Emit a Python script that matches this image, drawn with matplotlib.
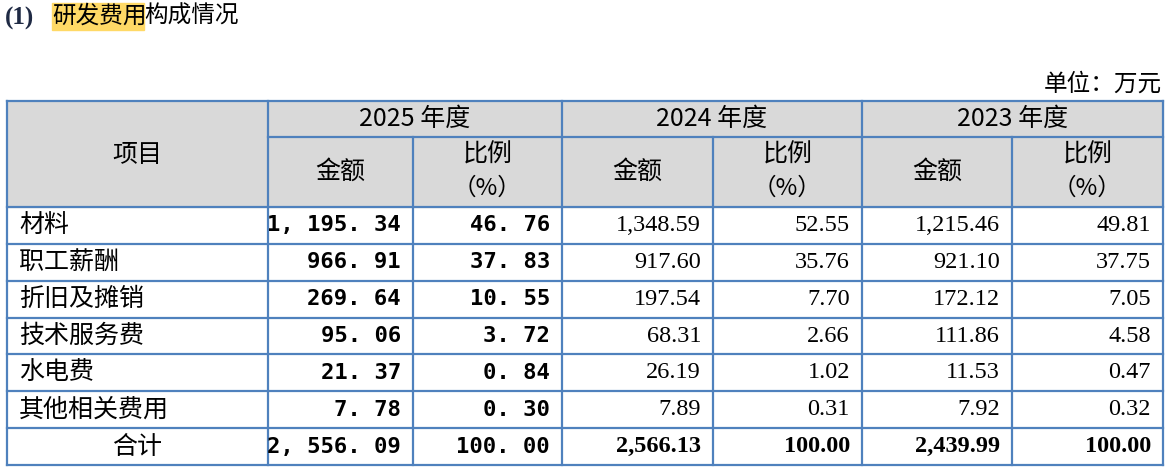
import matplotlib
matplotlib.use("Agg")
import matplotlib.pyplot as plt
from matplotlib.patches import Rectangle

items = ["材料", "职工薪酬", "折旧及摊销", "技术服务费", "水电费", "其他相关费用", "合计"]
years = ["2025 年度", "2024 年度", "2023 年度"]
amt2025 = ["1,195.34", "966.91", "269.64", "95.06", "21.37", "7.78", "2,556.09"]
pct2025 = ["46.76", "37.83", "10.55", "3.72", "0.84", "0.30", "100.00"]
amt2024 = ["1,348.59", "917.60", "197.54", "68.31", "26.19", "7.89", "2,566.13"]
pct2024 = ["52.55", "35.76", "7.70", "2.66", "1.02", "0.31", "100.00"]
amt2023 = ["1,215.46", "921.10", "172.12", "111.86", "11.53", "7.92", "2,439.99"]
pct2023 = ["49.81", "37.75", "7.05", "4.58", "0.47", "0.32", "100.00"]

CJK = ["Noto Sans CJK SC", "DejaVu Sans"]
SERIF = ["Liberation Serif", "DejaVu Serif"]
MONO = ["DejaVu Sans Mono"]
BLUE = "#4F81BD"

fig = plt.figure(figsize=(11.73, 4.69), dpi=100)
ax = fig.add_axes([0, 0, 1, 1])
ax.set_xlim(0, 1173); ax.set_ylim(469, 0); ax.axis("off")

# title
ax.text(5, 18, "(1)", fontsize=18, fontweight="bold", family=SERIF, color="#1F2A44", va="center")
ax.add_patch(Rectangle((52, 3), 92, 27, color="#FFD966", zorder=0))
ax.text(52, 16, "研发费用", fontsize=17, family=CJK, va="center")
ax.text(144, 16, "构成情况", fontsize=17, family=CJK, va="center")
ax.text(1162, 84, "单位：万元", fontsize=17, family=CJK, va="center", ha="right")

xs = [7, 268, 413, 562, 713, 862, 1012, 1163]
ytop, yh1, yh2 = 101, 137, 207
rh = (465 - yh2) / len(items)
ax.add_patch(Rectangle((xs[0], ytop), xs[-1] - xs[0], yh2 - ytop, color="#D9D9D9", zorder=0))

lw = 1.6
for y in [ytop, yh2] + [yh2 + rh * (i + 1) for i in range(len(items))]:
    ax.plot([xs[0], xs[-1]], [y, y], color=BLUE, lw=lw)
ax.plot([xs[1], xs[-1]], [yh1, yh1], color=BLUE, lw=lw)
for i, x in enumerate(xs):
    y0 = ytop if i in (0, 1, 3, 5, 7) else yh1
    ax.plot([x, x], [y0, 465], color=BLUE, lw=lw)

fs = 18
ax.text((xs[0] + xs[1]) / 2, 155, "项目", fontsize=fs, family=CJK, ha="center", va="center")
for k, yr in enumerate(years):
    a, b, c = xs[1 + 2 * k], xs[2 + 2 * k], xs[3 + 2 * k]
    ax.text((a + c) / 2, 119, yr, fontsize=fs, family=CJK, ha="center", va="center")
    ax.text((a + b) / 2, 172, "金额", fontsize=fs, family=CJK, ha="center", va="center")
    ax.text((b + c) / 2, 155, "比例", fontsize=fs, family=CJK, ha="center", va="center")
    ax.text((b + c) / 2, 188, "（%）", fontsize=fs - 1, family=CJK, ha="center", va="center")

cols = [(amt2025, pct2025), (amt2024, pct2024), (amt2023, pct2023)]
for r, name in enumerate(items):
    yc = yh2 + rh * (r + 0.5)
    last = r == len(items) - 1
    if last:
        ax.text((xs[0] + xs[1]) / 2, yc, name, fontsize=fs, family=CJK, ha="center", va="center")
    else:
        ax.text(xs[0] + 12, yc, name, fontsize=fs, family=CJK, ha="left", va="center")
    for k, (am, pc) in enumerate(cols):
        for j, vals in enumerate((am, pc)):
            xr = xs[2 + 2 * k + j] - 12
            if k == 0:
                ax.text(xr, yc, vals[r].replace(",", ", ").replace(".", ". "), fontsize=16,
                        family=MONO, fontweight="bold", ha="right", va="center")
            else:
                ax.text(xr, yc, vals[r], fontsize=17.5, family=SERIF,
                        fontweight="bold" if last else "normal", ha="right", va="center")

fig.savefig("out.png", dpi=100)
